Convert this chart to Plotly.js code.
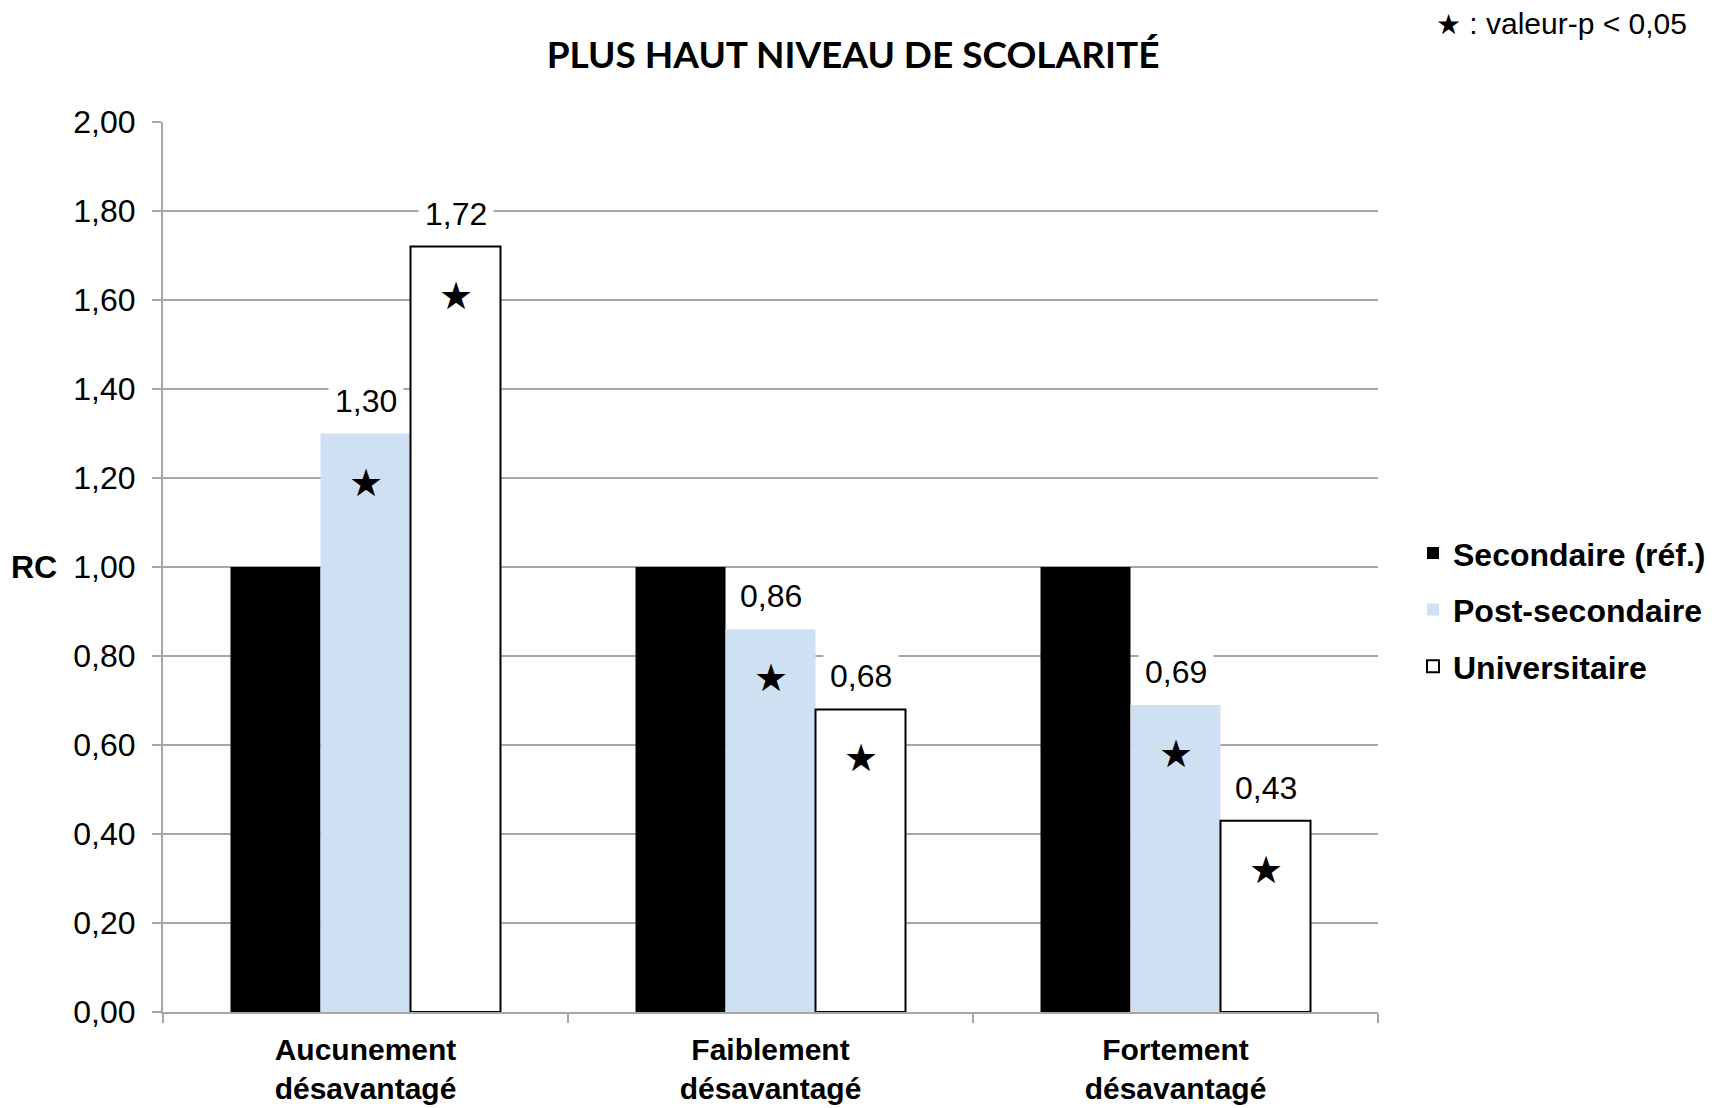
<!DOCTYPE html>
<html><head><meta charset="utf-8">
<script src="https://cdn.plot.ly/plotly-3.0.1.min.js"></script>
<style>html,body{margin:0;padding:0;background:#fff;}</style>
</head><body>
<div id="chart" style="width:1734px;height:1108px"></div>
<script>
// ---- data ----
const categories = ['Aucunement<br>désavantagé', 'Faiblement<br>désavantagé', 'Fortement<br>désavantagé'];
const seriesNames = ['Secondaire (réf.)', 'Post-secondaire', 'Universitaire'];
const secondaire = [1.00, 1.00, 1.00];
const postSecondaire = [1.30, 0.86, 0.69];
const universitaire = [1.72, 0.68, 0.43];
const showValueLabel = [false, true, true];
const sigPost = [true, true, true];
const sigUniv = [true, true, true];
const yTickVals = [0, 0.2, 0.4, 0.6, 0.8, 1.0, 1.2, 1.4, 1.6, 1.8, 2.0];
const chartTitle = 'PLUS HAUT NIVEAU DE SCOLARITÉ';
const yLabel = 'RC';
const noteStar = '★';
const noteText = ' : valeur-p < 0,05';

// ---- styles ----
const FONT = 'Liberation Sans, Arial, Helvetica, sans-serif';
const GRID = '#a6a6a6';
const barGap = 1/3;
const nSeries = 3;
const barUnits = (1 - barGap) / nSeries;

const allSeries = [secondaire, postSecondaire, universitaire];
const sigs = [null, sigPost, sigUniv];
const fills = ['#000000', '#cfe0f2', '#ffffff'];
const lines = [{width: 0}, {width: 0}, {color: '#000000', width: 2}];

const traces = allSeries.map((vals, s) => ({
  type: 'bar',
  name: seriesNames[s],
  x: categories,
  y: vals,
  marker: {color: fills[s], line: lines[s]},
  legendgroup: 'g' + s,
  hoverinfo: 'skip'
}));

const fmt = v => v.toFixed(2).replace('.', ',');
const annotations = [];
allSeries.forEach((vals, s) => {
  vals.forEach((v, i) => {
    const xPos = i + (s - (nSeries - 1) / 2) * barUnits;
    if (showValueLabel[s]) {
      annotations.push({
        xref: 'x', yref: 'y', x: xPos, y: v,
        text: fmt(v), showarrow: false,
        yanchor: 'middle', yshift: 33,
        bgcolor: '#ffffff', borderpad: 6,
        font: {family: FONT, size: 32, color: '#000'}
      });
    }
    if (sigs[s] && sigs[s][i]) {
      annotations.push({
        xref: 'x', yref: 'y', x: xPos, y: v,
        text: '★', showarrow: false,
        yanchor: 'middle', yshift: -49,
        font: {family: 'DejaVu Sans', size: 38, color: '#000'}
      });
    }
  });
});
annotations.push({
  xref: 'paper', yref: 'y', x: -0.0856, y: 1.0, xanchor: 'right', yanchor: 'middle',
  text: '<b>' + yLabel + '</b>', showarrow: false,
  font: {family: FONT, size: 32, color: '#000'}
});
annotations.push({
  xref: 'paper', yref: 'paper', x: 1.256, y: 1.1102, xanchor: 'right', yanchor: 'middle',
  text: '<span style="font-size:28px">' + noteStar + '</span>' + noteText, showarrow: false,
  font: {family: FONT, size: 30, color: '#000'}
});

const layout = {
  width: 1734, height: 1108,
  paper_bgcolor: '#fff', plot_bgcolor: '#fff',
  margin: {l: 163, r: 356, t: 122, b: 96, pad: 0},
  separators: ', ',
  barmode: 'group', bargap: barGap, bargroupgap: 0,
  showlegend: true,
  title: {
    text: chartTitle, x: 0.492, xref: 'container', xanchor: 'center',
    y: 0.95, yref: 'container', yanchor: 'middle',
    font: {family: 'Lato, sans-serif', size: 37, weight: 700, color: '#000'}
  },
  legend: {
    x: 1.0288, xanchor: 'left', y: 0.452, yanchor: 'middle',
    font: {family: FONT, size: 32, weight: 700, color: '#000'},
    tracegroupgap: 12, traceorder: 'grouped', bgcolor: 'rgba(0,0,0,0)'
  },
  xaxis: {
    type: 'category', tickson: 'boundaries',
    ticks: 'outside', ticklen: 9, tickwidth: 2, tickcolor: GRID,
    showline: true, linecolor: GRID, linewidth: 2,
    showgrid: false, zeroline: false,
    tickfont: {family: FONT, size: 30, weight: 700, color: '#000'},
    ticklabelstandoff: 10,
    fixedrange: true
  },
  yaxis: {
    range: [0, 2], tickmode: 'array', tickvals: yTickVals, tickformat: '.2f',
    ticks: 'outside', ticklen: 9, tickwidth: 2, tickcolor: GRID,
    showline: true, linecolor: GRID, linewidth: 2,
    showgrid: true, gridcolor: GRID, gridwidth: 2, zeroline: false,
    tickfont: {family: FONT, size: 32, color: '#000'},
    ticklabelstandoff: 10,
    fixedrange: true
  },
  annotations: annotations
};

Plotly.newPlot('chart', traces, layout, {staticPlot: true, displayModeBar: false});
</script>
</body></html>
